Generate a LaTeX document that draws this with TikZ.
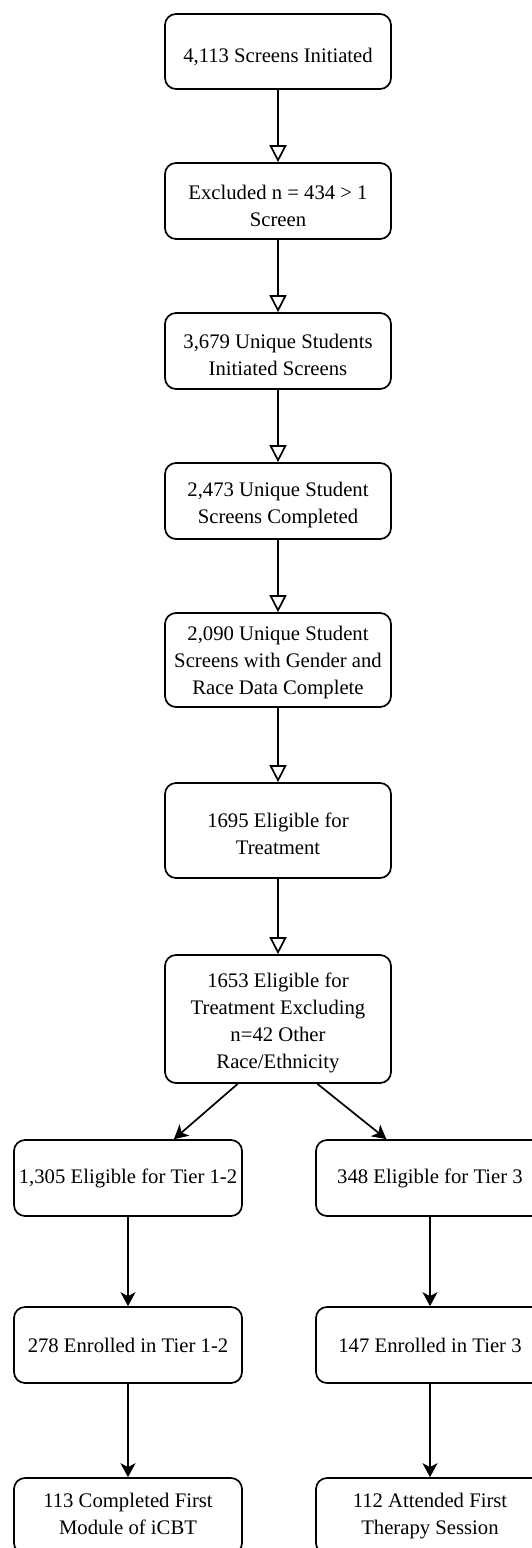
\documentclass[tikz,border=0pt]{standalone}
\usepackage{fontspec}
\setmainfont{Liberation Serif}
\usetikzlibrary{arrows.meta,calc}
\begin{document}
\begin{tikzpicture}[x=1pt,y=-1pt,
  box/.style={draw=black, line width=1.7pt, rounded corners=11pt, fill=white,
    align=center, minimum width=226pt, minimum height=76pt, inner sep=2pt,
    font=\fontsize{20.7}{27}\selectfont},
  sbox/.style={box, minimum width=228pt},
  txt/.style={align=center, inner sep=0pt, font=\fontsize{20.7}{27}\selectfont},
  openarr/.style={line width=1.7pt, -{Triangle[open, length=17pt, width=17pt, fill=white]}},
  fillarr/.style={line width=1.7pt, -{Stealth[length=14pt, width=15pt, inset=4pt]}}]
\clip (0,0) rectangle (532,1548);
\fill[white] (0,0) rectangle (532,1548);
% main column (boxes, then their texts set slightly below centre)
\node[box, minimum height=75pt] (b1) at (278,51.5) {};
\node[box] (b2) at (278,201) {};
\node[box] (b3) at (278,351) {};
\node[box] (b4) at (278,501) {};
\node[box, minimum height=94pt] (b5) at (278,660) {};
\node[box, minimum height=95pt] (b6) at (278,830.5) {};
\node[box, minimum height=128pt] (b7) at (278,1019) {};
\node[txt] (t1) at ([yshift=-5pt]b1.center) {4,113 Screens Initiated};
\node[txt] (t2) at ([yshift=-5pt]b2.center) {Excluded n = 434 > 1\\Screen};
\node[txt] (t3) at ([yshift=-4pt]b3.center) {3,679 Unique Students\\Initiated Screens};
\node[txt] (t4) at ([yshift=-4pt]b4.center) {2,473 Unique Student\\Screens Completed};
\node[txt] (t5) at ([yshift=-3pt]b5.center) {2,090 Unique Student\\Screens with Gender and\\Race Data Complete};
\node[txt] (t6) at ([yshift=-3pt]b6.center) {1695 Eligible for\\Treatment};
\node[txt] (t7) at ([yshift=-4pt]b7.center) {1653 Eligible for\\Treatment Excluding\\n=42 Other\\Race/Ethnicity};
% branches
\node[sbox] (l1) at (128,1178) {1,305 Eligible for Tier 1-2};
\node[sbox] (r1) at (430,1178) {348 Eligible for Tier 3};
\node[sbox] (l2) at (128,1345) {278 Enrolled in Tier 1-2};
\node[sbox] (r2) at (430,1345) {147 Enrolled in Tier 3};
\node[sbox, text depth=5pt] (l3) at (128,1516) {113 Completed First\\Module of iCBT};
\node[sbox, text depth=5pt] (r3) at (430,1516) {112 Attended First\\Therapy Session};
% connectors
\draw[openarr] (b1.south) -- (b2.north);
\draw[openarr] (b2.south) -- (b3.north);
\draw[openarr] (b3.south) -- (b4.north);
\draw[openarr] (b4.south) -- (b5.north);
\draw[openarr] (b5.south) -- (b6.north);
\draw[openarr] (b6.south) -- (b7.north);
\draw[fillarr] ($(b7.south west)!0.323!(b7.south east)$) -- ($(l1.north west)!0.70!(l1.north east)$);
\draw[fillarr] ($(b7.south west)!0.673!(b7.south east)$) -- ($(r1.north west)!0.31!(r1.north east)$);
\draw[fillarr] (l1.south) -- (l2.north);
\draw[fillarr] (r1.south) -- (r2.north);
\draw[fillarr] (l2.south) -- (l3.north);
\draw[fillarr] (r2.south) -- (r3.north);
\end{tikzpicture}
\end{document}
